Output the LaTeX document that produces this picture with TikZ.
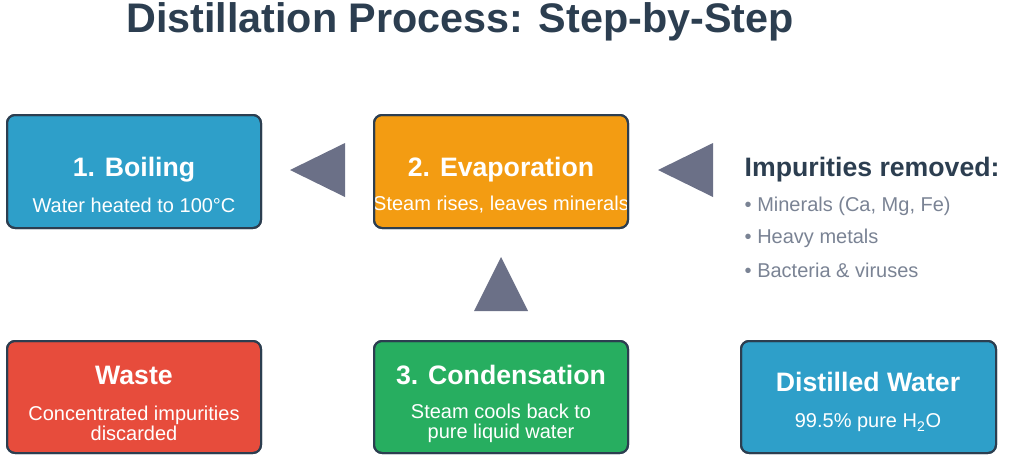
\documentclass[tikz,border=0pt]{standalone}
\usepackage{fontspec}
\setmainfont{Liberation Sans}
\definecolor{bblue}{HTML}{2E9FC9}
\definecolor{borange}{HTML}{F39C12}
\definecolor{bred}{HTML}{E74C3C}
\definecolor{bgreen}{HTML}{27AE60}
\definecolor{edge}{HTML}{2C3E50}
\definecolor{tri}{HTML}{6B7087}
\definecolor{gtext}{HTML}{7A8394}
\begin{document}
\begin{tikzpicture}[x=0.75pt,y=-0.75pt,
  boxst/.style={draw=edge,line width=1.5pt,rounded corners=6pt},
  ttl/.style={text=white,font=\bfseries\fontsize{20}{22}\selectfont},
  sub/.style={text=white,font=\fontsize{15}{17}\selectfont,align=center},
  triang/.style={fill=tri}]
\useasboundingbox (0,0) rectangle (1024,455);
\node (title) at (460,22) {\bfseries\fontsize{31}{34}\selectfont\color{edge}Distillation Process: Step-by-Step};
% boxes
\newcommand{\mybox}[7]{%
  \path[boxst,fill=#5] (#1,#2) rectangle (#3,#4);
  \begin{scope}\clip[rounded corners=6pt] (#1,#2) rectangle (#3,#4);
  #6 #7
  \end{scope}
  \draw[boxst] (#1,#2) rectangle (#3,#4);}
\mybox{7}{115}{261}{228}{bblue}{\node[ttl] (b1) at (134,170) {1. Boiling};}{\node[sub] (b1s) at (134,205) {Water heated to 100°C};}
\mybox{374}{115}{628}{228}{borange}{\node[ttl] (b2) at (501,170) {2. Evaporation};}{\node[sub] (b2s) at (501,205) {Steam rises, leaves minerals};}
\mybox{7}{341}{261}{453}{bred}{\node[ttl] (w) at (134,375) {Waste};}{\node[sub] (ws) at (134,423) {Concentrated impurities\\[-2pt]discarded};}
\mybox{374}{341}{628}{453}{bgreen}{\node[ttl] (b3) at (501,375) {3. Condensation};}{\node[sub] (b3s) at (501,423) {Steam cools back to\\[-2pt]pure liquid water};}
\mybox{741}{341}{996}{453}{bblue}{\node[ttl] (d) at (868,382) {Distilled Water};}{\node[sub] (ds) at (868,423) {99.5\% pure H\textsubscript{2}O};}
% triangles
\fill[triang] (290,170) -- (345,143) -- (345,197) -- cycle;
\fill[triang] (658,170) -- (713,143) -- (713,197) -- cycle;
\fill[triang] (501,257) -- (528,311) -- (474,311) -- cycle;
% impurities
\node[anchor=west,font=\bfseries\fontsize{20}{22}\selectfont,text=edge] (imp) at (740,170) {Impurities removed:};
\node[anchor=west,font=\fontsize{15}{17}\selectfont,text=gtext] (i1) at (740,206) {• Minerals (Ca, Mg, Fe)};
\node[anchor=west,font=\fontsize{15}{17}\selectfont,text=gtext] (i2) at (740,238) {• Heavy metals};
\node[anchor=west,font=\fontsize{15}{17}\selectfont,text=gtext] (i3) at (740,270) {• Bacteria \& viruses};
\end{tikzpicture}
\end{document}
